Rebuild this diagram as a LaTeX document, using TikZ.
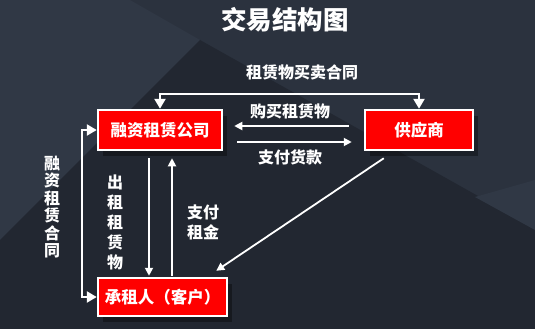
\documentclass[tikz,border=0pt]{standalone}
\usepackage{fontspec}
\newfontfamily\cjk{Noto Sans CJK SC}
\usetikzlibrary{arrows.meta,shadows}
\definecolor{bgdark}{HTML}{222731}
\definecolor{bglight}{HTML}{2B323E}
\definecolor{bglighter}{HTML}{303845}
\definecolor{boxred}{HTML}{FF0000}
\tikzset{
  lbl/.style={text=white, font=\cjk\bfseries\fontsize{16}{20}\selectfont, inner sep=0pt, align=center},
  boxnode/.style={draw=white, line width=2.5pt, fill=boxred, text=white, inner sep=0pt,
     font=\cjk\bfseries\fontsize{16.5}{20}\selectfont,
     drop shadow={shadow xshift=5pt, shadow yshift=-6pt, fill=black, opacity=0.35}},
  bigarrow/.style={draw=white, line width=2.5pt, {Triangle[width=11pt,length=10pt]}-{Triangle[width=11pt,length=10pt]}},
  midarrow/.style={draw=white, line width=1.8pt, -{Triangle[width=8pt,length=8pt]}},
}
\begin{document}
\begin{tikzpicture}[x=1pt,y=-1pt]
\useasboundingbox (0,0) rectangle (535,329);
% background
\fill[bglight] (0,0) rectangle (535,329);
\fill[bglighter] (0,0) -- (130,0) -- (200,40) -- (0,240) -- cycle;
\fill[bgdark] (0,240) -- (200,40) -- (535,228) -- (535,329) -- (0,329) -- cycle;
\fill[bglighter] (475,197) -- (535,180) -- (535,230) -- cycle;
% title
\node[lbl, font=\cjk\bfseries\fontsize{25.5}{28}\selectfont] (title) at (285,20) {交易结构图};
% boxes
\node[boxnode, minimum width=124pt, minimum height=40pt] (fl) at (160,130) {融资租赁公司};
\node[boxnode, minimum width=108pt, minimum height=40pt] (gys) at (419,130) {供应商};
\node[boxnode, minimum width=129pt, minimum height=38pt] (czr) at (162.5,297) {承租人（客户）};
% top contract
\coordinate (topy) at (0,94);
\draw[bigarrow] (fl.north) |- (topy -| gys.north) -- (gys.north);
\node[lbl] (l1) at (302,72) {租赁物买卖合同};
% left contract
\coordinate (lx) at (82,0);
\draw[bigarrow] (fl.west) -- (fl.west -| lx) -- (czr.west -| lx) -- (czr.west);
\node[lbl, font=\cjk\bfseries\fontsize{16}{17.4}\selectfont] (l2) at (52,207) {融\\资\\租\\赁\\合\\同};
% purchase / payment
\draw[midarrow] ([xshift=-15pt,yshift=4pt]gys.west) -- ([xshift=11pt,yshift=4pt]fl.east);
\node[lbl] (l3) at (290,111) {购买租赁物};
\draw[midarrow] ([xshift=14pt,yshift=-12pt]fl.east) -- ([xshift=-12pt,yshift=-12pt]gys.west);
\node[lbl] (l4) at (290,157) {支付货款};
% lease out / rent
\coordinate (dx) at (149,0);
\coordinate (ux) at (172,0);
\draw[midarrow] ([yshift=-7pt]dx |- fl.south) -- ([yshift=1pt]dx |- czr.north);
\node[lbl] (l5) at (115,222) {出\\租\\租\\赁\\物};
\draw[midarrow] ([yshift=1pt]ux |- czr.north) -- ([yshift=-7pt]ux |- fl.south);
\node[lbl] (l6) at (203,222) {支付\\租金};
% supplier to lessee
\draw[midarrow] ([xshift=20pt,yshift=-7pt]gys.south west) -- ([xshift=-12pt,yshift=6pt]czr.north east);
\end{tikzpicture}
\end{document}
